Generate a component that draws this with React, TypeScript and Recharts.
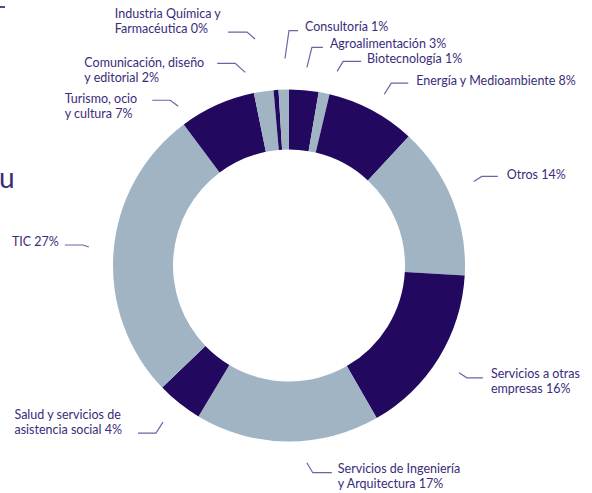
import { PieChart, Pie, Cell } from "recharts";

// sectors, clockwise from 12 o'clock
const SECTORS = [
  "Agroalimentación",
  "Biotecnología",
  "Energía y Medioambiente",
  "Otros",
  "Servicios a otras empresas",
  "Servicios de Ingeniería y Arquitectura",
  "Salud y servicios de asistencia social",
  "TIC",
  "Turismo, ocio y cultura",
  "Comunicación, diseño y editorial",
  "Industria Química y Farmacéutica",
  "Consultoría",
];
const SHARES = [2.7, 1.0, 8.2, 14.0, 15.8, 16.9, 4.2, 27.0, 7.0, 1.8, 0.45, 0.95];
const LABEL_LINES = [
  ["Agroalimentación"],
  ["Biotecnología"],
  ["Energía y Medioambiente"],
  ["Otros"],
  ["Servicios a otras", "empresas"],
  ["Servicios de Ingeniería", "y Arquitectura"],
  ["Salud y servicios de", "asistencia social"],
  ["TIC"],
  ["Turismo, ocio", "y cultura"],
  ["Comunicación, diseño", "y editorial"],
  ["Industria Química y", "Farmacéutica"],
  ["Consultoría"],
];

// leader line tweaks: angle shift (deg, clockwise), gap past ring, elbow, horizontal length, text gap, text offset
const LEADERS = [
  { shift: 0.3, dr: 23, ex: 5, ey: -20, len: 11, gap: 7, ty: -4 },
  { shift: 2.4, dr: 24, ex: 6, ey: -10, len: 18, gap: 6, ty: -3 },
  { shift: 1, dr: 20, ex: 7, ey: -11, len: 17, gap: 8, ty: -3 },
  { shift: -2.5, dr: 27, ex: 8, ey: -5, len: 16, gap: 9, ty: -2 },
  { shift: 0.6, dr: 25, ex: 8, ey: 5, len: 16, gap: 8, ty: -4 },
  { shift: -5.7, dr: 22, ex: 6, ey: 10, len: 19, gap: 6, ty: -4 },
  { shift: 0.3, dr: 25, ex: -7, ey: 11, len: 18, gap: 16, ty: -19 },
  { shift: 0.6, dr: 25, ex: -6, ey: -2, len: 18, gap: 6, ty: -4 },
  { shift: -10.7, dr: 18, ex: -8, ey: -6, len: 18, gap: 15, ty: -2 },
  { shift: -4.5, dr: 22, ex: -10, ey: -9, len: 18, gap: 13, ty: -1 },
  { shift: -4.3, dr: 53, ex: -8, ey: -7, len: 19, gap: 7, ty: -19 },
  { shift: 0.6, dr: 31, ex: 4, ey: -28, len: 9, gap: 7, ty: -4 },
];

const DARK = "#23085f";
const LIGHT = "#a1b4c4";
const TEXT = "#3b2b7b";
const LEADER = "#6f62a3";
const FONT = "Lato, 'Noto Sans', sans-serif";
const FONT_SIZE = 12.5;

const data = SECTORS.map((name, i) => ({ name, value: SHARES[i] }));

let ctx: CanvasRenderingContext2D | null = null;
function textWidth(s: string) {
  if (!ctx) ctx = document.createElement("canvas").getContext("2d");
  if (!ctx) return s.length * 6.3;
  ctx.font = `${FONT_SIZE}px Lato`;
  return ctx.measureText(s).width;
}

function renderLabel(props: any) {
  const { cx, cy, midAngle, outerRadius, index, value } = props;
  const l = LEADERS[index];
  const a = ((midAngle - l.shift) * Math.PI) / 180;
  const r = outerRadius + l.dr;
  const x0 = cx + r * Math.cos(a);
  const y0 = cy - r * Math.sin(a);
  const x1 = x0 + l.ex;
  const y1 = y0 + l.ey;
  const dir = l.ex >= 0 ? 1 : -1;
  const x2 = x1 + dir * l.len;
  const lines = LABEL_LINES[index].slice();
  lines[lines.length - 1] = `${lines[lines.length - 1]} ${Math.round(value)}%`;
  const maxW = Math.max(...lines.map(textWidth));
  const tx = dir > 0 ? x2 + l.gap : x2 - l.gap - maxW;
  return (
    <g key={`lbl-${index}`}>
      <polyline
        points={`${x0},${y0} ${x1},${y1} ${x2},${y1}`}
        fill="none"
        stroke={LEADER}
        strokeWidth={1.2}
      />
      {lines.map((t, k) => (
        <text
          key={k}
          x={tx}
          y={y1 + l.ty + k * 15}
          fill={TEXT}
          fontSize={FONT_SIZE}
          fontFamily={FONT}
          textAnchor="start"
          dominantBaseline="central"
        >
          {t}
        </text>
      ))}
    </g>
  );
}

export default function App() {
  return (
    <div style={{ position: "absolute", left: 0, top: 0, width: 592, height: 493, background: "#fff" }}>
      <svg width={592} height={493} style={{ position: "absolute", left: 0, top: 0 }}>
        <line x1={0} y1={7} x2={5} y2={7} stroke={DARK} strokeWidth={1.5} />
        <text x={-1} y={188} fill={TEXT} fontSize={28} fontFamily={FONT}>
          u
        </text>
      </svg>
      <div style={{ position: "absolute", left: 0, top: 0 }}>
        <PieChart width={592} height={493} margin={{ top: 0, right: 0, bottom: 0, left: 0 }}>
          <Pie
            data={data}
            dataKey="value"
            nameKey="name"
            cx={289}
            cy={265.5}
            innerRadius={116}
            outerRadius={176}
            startAngle={90}
            endAngle={-270}
            stroke="none"
            label={renderLabel}
            labelLine={false}
            isAnimationActive={false}
          >
            {data.map((d, i) => (
              <Cell key={d.name} fill={i % 2 === 0 ? DARK : LIGHT} />
            ))}
          </Pie>
        </PieChart>
      </div>
    </div>
  );
}
